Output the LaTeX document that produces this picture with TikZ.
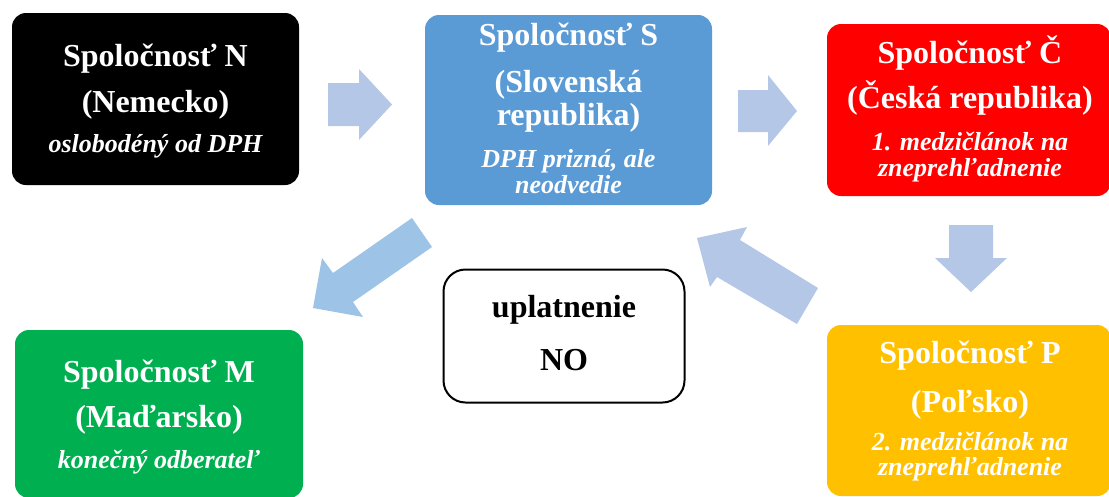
\documentclass[tikz,border=0pt]{standalone}
\usepackage{fontspec}
\setmainfont{Liberation Serif}
\definecolor{cS}{HTML}{5B9BD5}
\definecolor{cC}{HTML}{FF0000}
\definecolor{cP}{HTML}{FFC000}
\definecolor{cM}{HTML}{00B050}
\definecolor{arrA}{HTML}{B4C7E7}
\definecolor{arrB}{HTML}{9DC3E6}
\tikzset{
  box/.style={rectangle, rounded corners=14pt, inner sep=0pt, draw=none},
  ttl/.style={font=\fontsize{32}{34}\selectfont\bfseries, text=white, anchor=base, inner sep=0pt},
  sub/.style={font=\fontsize{26}{28}\selectfont\bfseries\itshape, text=white, anchor=base, inner sep=0pt},
  blk/.style={ttl, text=black},
  barrow/.style={fill=arrA, draw=none},
}
\begin{document}
\begin{tikzpicture}[x=1pt,y=-1pt]
\useasboundingbox (0,0) rectangle (1109,496);
\begin{scope}
\clip (0,0) rectangle (1109,496);
% boxes
\node[box, fill=black, minimum width=287, minimum height=172] (N) at (155.5,99) {};
\node[box, fill=cS, minimum width=287, minimum height=190] (S) at (568.5,110) {};
\node[box, fill=cC, minimum width=284, minimum height=172] (C) at (969,110) {};
\node[box, fill=cP, minimum width=284, minimum height=171] (P) at (969,410.5) {};
\node[box, fill=cM, minimum width=288, minimum height=168] (M) at (159,414) {};
\node[box, draw=black, line width=2pt, rounded corners=22pt, fill=white, minimum width=241, minimum height=133] (NO) at (564,336) {};
% texts N
\node[ttl] (N1) at (155.5,66) {Spoločnosť N};
\node[ttl] (N2) at (155.5,112) {(Nemecko)};
\node[sub] (N3) at (155.5,152) {oslobodéný od DPH};
% texts S
\node[ttl] (S1) at (568.5,45) {Spoločnosť S};
\node[ttl] (S2) at (568.5,92) {(Slovenská};
\node[ttl] (S3) at (568.5,125) {republika)};
\node[sub] (S4) at (568.5,167) {DPH prizná, ale};
\node[sub] (S5) at (568.5,193) {neodvedie};
% texts C
\node[ttl] (C1) at (970,63) {Spoločnosť Č};
\node[ttl] (C2) at (970,108) {(Česká republika)};
\node[sub] (C3) at (970,150) {1. medzičlánok na};
\node[sub] (C4) at (970,176) {zneprehľadnenie};
% texts P
\node[ttl] (P1) at (970,363) {Spoločnosť P};
\node[ttl] (P2) at (970,412) {(Poľsko)};
\node[sub] (P3) at (970,450) {2. medzičlánok na};
\node[sub] (P4) at (970,475) {zneprehľadnenie};
% texts M
\node[ttl] (M1) at (159,382) {Spoločnosť M};
\node[ttl] (M2) at (159,427) {(Maďarsko)};
\node[sub] (M3) at (159,468) {konečný odberateľ};
% texts NO
\node[blk] (NO1) at (564,317) {uplatnenie};
\node[blk] (NO2) at (564,370) {NO};
% block arrows
\fill[barrow] (328,83) -- (359,83) -- (359,69) -- (392,104.5) -- (359,140) -- (359,126) -- (328,126) -- cycle;
\fill[barrow] (738,90) -- (768,90) -- (768,75) -- (797,111) -- (768,146) -- (768,132) -- (738,132) -- cycle;
\fill[barrow] (949,225) -- (993,225) -- (993,258) -- (1007,258) -- (971,292) -- (935,258) -- (949,258) -- cycle;
\fill[barrow] (818,288) -- (740,240) -- (747,227) -- (697,238) -- (710,287) -- (717,277) -- (797,324) -- cycle;
\fill[barrow, fill=arrB] (412,218) -- (333,273) -- (322,258) -- (313,308) -- (363,317) -- (353,302) -- (432,247) -- cycle;
\end{scope}
\end{tikzpicture}
\end{document}
